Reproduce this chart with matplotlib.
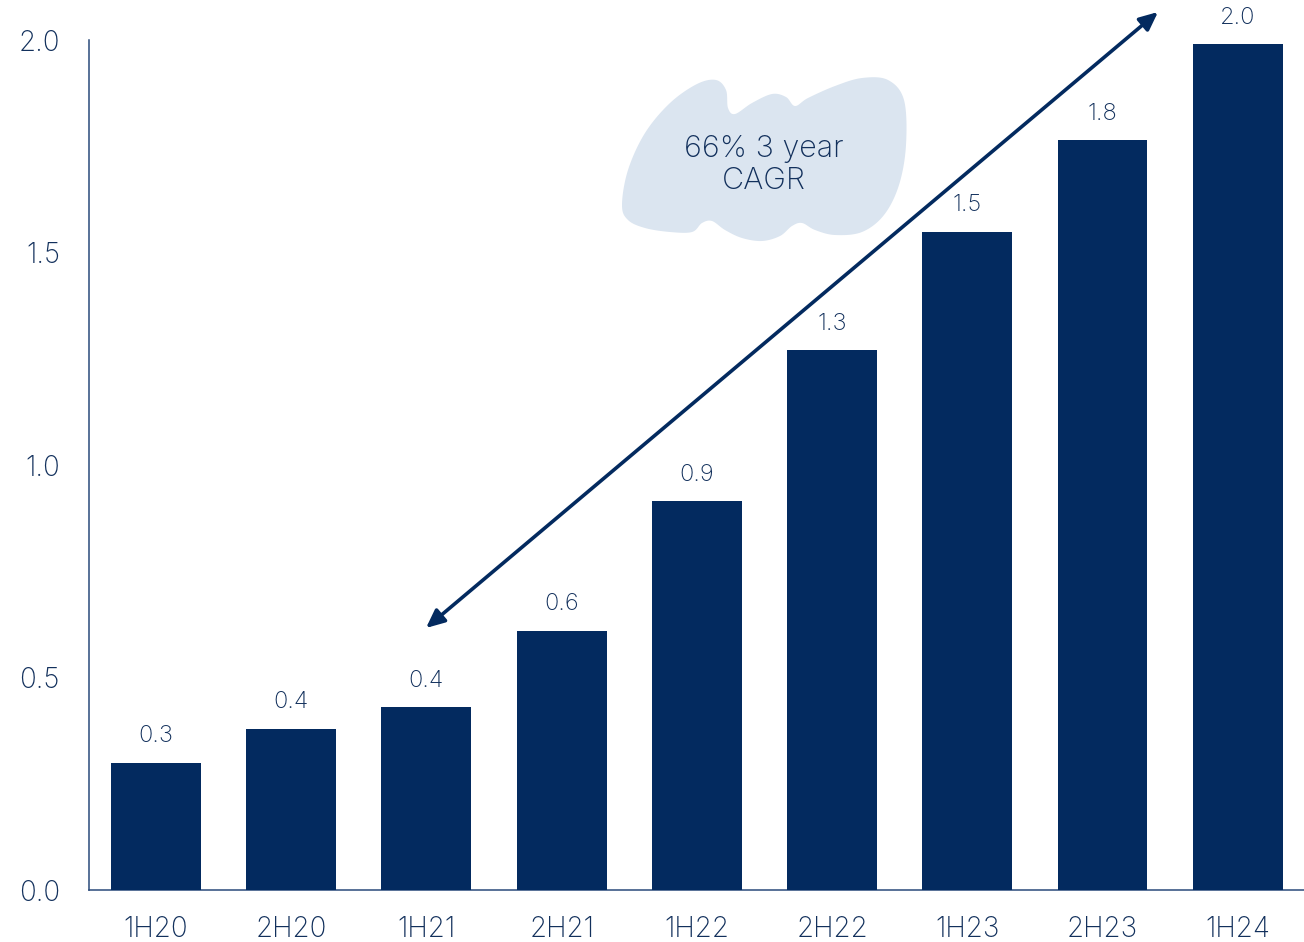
import numpy as np
import matplotlib
matplotlib.use("Agg")
import matplotlib.pyplot as plt
from matplotlib.patches import Polygon

# half-year periods and values
periods = ["1H20", "2H20", "1H21", "2H21", "1H22", "2H22", "1H23", "2H23", "1H24"]
values = [0.30, 0.38, 0.43, 0.61, 0.915, 1.27, 1.549, 1.765, 1.99]
y_ticks = [0.0, 0.5, 1.0, 1.5, 2.0]
cagr_text = "66% 3 year\nCAGR"

NAVY = "#032a5f"
TEXT = "#12305c"
CLOUD = "#dbe5f0"

plt.rcParams["font.family"] = ["Inter", "DejaVu Sans"]

fig = plt.figure(figsize=(13.04, 9.42), dpi=100)
ax = fig.add_axes([0.0683, 0.0552, 0.9317, 0.9023])

x = np.arange(len(periods))
bars = ax.bar(x, values, width=0.665, color=NAVY, zorder=3)

for xi, v in zip(x, values):
    ax.annotate(f"{v:.1f}", (xi, v), xytext=(0, 11), textcoords="offset points",
                ha="center", va="bottom", fontsize=17, color=TEXT, fontweight="light")

ax.set_xlim(-0.495, 8.49)
ax.set_ylim(0, 2.0)
ax.set_xticks(x)
ax.set_xticklabels(periods)
ax.set_yticks(y_ticks)
ax.set_yticklabels([f"{t:.1f}" for t in y_ticks])
ax.tick_params(axis="both", length=0, labelsize=20, labelcolor=TEXT)
ax.tick_params(axis="x", pad=19)
ax.tick_params(axis="y", pad=21)
for lab in ax.get_xticklabels() + ax.get_yticklabels():
    lab.set_fontweight("light")

for s in ["top", "right"]:
    ax.spines[s].set_visible(False)
for s in ["left", "bottom"]:
    ax.spines[s].set_color("#2a4a7a")
    ax.spines[s].set_linewidth(1.1)


def px_to_data(px, py):
    # convert figure pixel positions (top-left origin) into data coordinates
    disp = np.column_stack([px, 942 - np.asarray(py)])
    return ax.transData.inverted().transform(disp)


def catmull_rom_closed(pts, n=20):
    pts = np.asarray(pts, dtype=float)
    out = []
    m = len(pts)
    t = np.linspace(0, 1, n, endpoint=False)[:, None]
    for i in range(m):
        p0, p1, p2, p3 = pts[i - 1], pts[i], pts[(i + 1) % m], pts[(i + 2) % m]
        seg = 0.5 * ((2 * p1) + (-p0 + p2) * t + (2 * p0 - 5 * p1 + 4 * p2 - p3) * t ** 2
                     + (-p0 + 3 * p1 - 3 * p2 + p3) * t ** 3)
        out.append(seg)
    return np.vstack(out)


# blob outline behind the CAGR note
blob = [(622, 205), (628, 170), (645, 133), (670, 103), (697, 84), (716, 80),
        (726, 90), (728, 108), (735, 114), (752, 103), (772, 94), (786, 97),
        (795, 106), (808, 98), (835, 86), (862, 78), (888, 80), (904, 100),
        (906, 145), (899, 185), (884, 215), (862, 232), (835, 235), (815, 230),
        (802, 223), (792, 226), (780, 236), (762, 241), (742, 238), (725, 230),
        (712, 221), (702, 223), (692, 232), (670, 232), (645, 228), (628, 220)]
outline = catmull_rom_closed(blob)
cloud = Polygon(px_to_data(outline[:, 0], outline[:, 1]), closed=True,
                facecolor=CLOUD, edgecolor="none", zorder=1, clip_on=False)
ax.add_patch(cloud)

cx, cy = px_to_data([764], [165])[0]
ax.text(cx, cy, cagr_text, ha="center", va="center", fontsize=22,
        color=TEXT, linespacing=1.2, fontweight="light", zorder=4)

# double-headed growth arrow
start = px_to_data([426], [628])[0]
end = px_to_data([1158], [12])[0]
ax.annotate("", xy=end, xytext=start,
            arrowprops=dict(arrowstyle="<|-|>,head_length=1.1,head_width=0.5",
                            color=NAVY, lw=2.6, shrinkA=0, shrinkB=0),
            annotation_clip=False, zorder=4)

fig.savefig("out.png", dpi=100)
